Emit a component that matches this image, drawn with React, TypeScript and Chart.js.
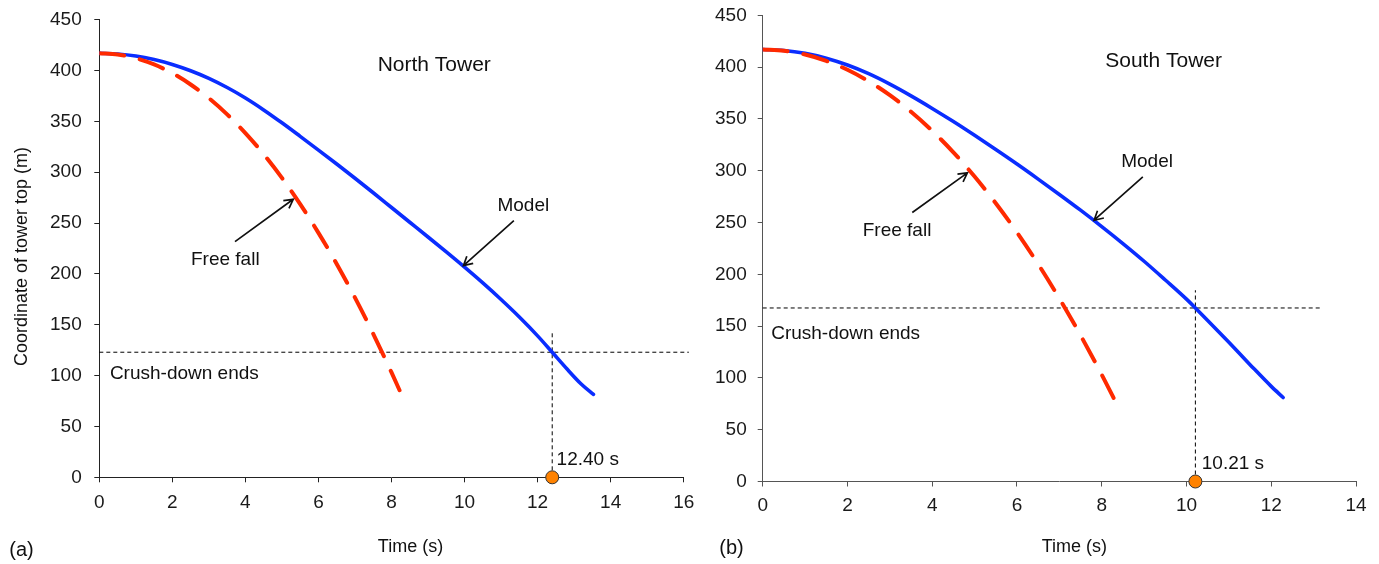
import { useEffect, useRef } from "react";
import { Chart, registerables } from "chart.js";

Chart.register(...registerables);

const FONT = '"Liberation Sans", Arial, Helvetica, sans-serif';
const BLUE = "#0a2dff";
const RED = "#ff2a00";
const DOT = "#ff8200";

// ---- North Tower (a) ----
const northModelTime = [0, 0.5, 1, 1.5, 2, 2.5, 3, 3.5, 4, 4.5, 5, 5.5, 6, 6.5, 7, 7.5, 8, 8.5, 9, 9.5, 10, 10.5, 11, 11.5, 12, 12.4, 12.8, 13.2, 13.53];
const northModelHeight = [417, 416.3, 414.3, 410.8, 406, 399.8, 392.3, 383.3, 373, 361.3, 348.6, 335.3, 321.8, 308.1, 294.1, 279.8, 265.3, 250.8, 236.3, 221.6, 206.6, 191.1, 174.8, 157.6, 139.1, 123, 106.7, 91.5, 81.5];
const northFreeFallTime = [0, 0.5, 1, 1.5, 2, 2.5, 3, 3.5, 4, 4.5, 5, 5.5, 6, 6.5, 7, 7.5, 8, 8.22];
const northFreeFallHeight = [417, 415.8, 412.1, 406.0, 397.4, 386.3, 372.9, 356.9, 338.5, 317.7, 294.4, 268.6, 240.4, 209.8, 176.7, 141.1, 103.1, 85.6];
const northCrushEndTime = 12.4;
const northCrushEndHeight = 123;
const northTimeTicks = [0, 2, 4, 6, 8, 10, 12, 14, 16];

// ---- South Tower (b) ----
const southModelTime = [0, 0.5, 1, 1.5, 2, 2.5, 3, 3.5, 4, 4.5, 5, 5.5, 6, 6.5, 7, 7.5, 8, 8.5, 9, 9.5, 10, 10.21, 10.5, 11, 11.5, 12, 12.28];
const southModelHeight = [417, 416.1, 413.3, 408.6, 402, 393.6, 383.5, 372.2, 360.1, 347.4, 334.1, 320.4, 306.4, 291.9, 277.1, 261.9, 246.1, 229.7, 212.6, 194.5, 176, 167.5, 155.5, 134.3, 112.8, 91.8, 81.1];
const southFreeFallTime = [0, 0.5, 1, 1.5, 2, 2.5, 3, 3.5, 4, 4.5, 5, 5.5, 6, 6.5, 7, 7.5, 8, 8.38];
const southFreeFallHeight = [417, 415.8, 412.1, 406.0, 397.4, 386.3, 372.9, 356.9, 338.5, 317.7, 294.4, 268.6, 240.4, 209.8, 176.7, 141.1, 103.1, 72.6];
const southCrushEndTime = 10.21;
const southCrushEndHeight = 167.5;
const southTimeTicks = [0, 2, 4, 6, 8, 10, 12, 14];

const heightTicks = [0, 50, 100, 150, 200, 250, 300, 350, 400, 450];

const zip = (xs: number[], ys: number[]) => xs.map((x, i) => ({ x, y: ys[i] }));

function drawArrow(ctx: CanvasRenderingContext2D, x1: number, y1: number, x2: number, y2: number) {
  const ang = Math.atan2(y2 - y1, x2 - x1);
  const len = 10;
  const spread = 0.5;
  ctx.beginPath();
  ctx.moveTo(x1, y1);
  ctx.lineTo(x2, y2);
  ctx.moveTo(x2 - len * Math.cos(ang - spread), y2 - len * Math.sin(ang - spread));
  ctx.lineTo(x2, y2);
  ctx.lineTo(x2 - len * Math.cos(ang + spread), y2 - len * Math.sin(ang + spread));
  ctx.stroke();
}

const notesPlugin = {
  id: "towerNotes",
  afterDatasetsDraw(chart: any, _args: any, opts: any) {
    const { ctx, chartArea, scales } = chart;
    const X = (v: number) => scales.x.getPixelForValue(v);
    const Y = (v: number) => scales.y.getPixelForValue(v);
    ctx.save();
    ctx.fillStyle = "#111";
    ctx.strokeStyle = "#111";
    ctx.lineWidth = 1.7;
    ctx.textBaseline = "middle";
    for (const n of opts.notes) {
      ctx.font = `${n.size}px ${FONT}`;
      ctx.textAlign = n.align;
      ctx.fillText(n.text, X(n.x), Y(n.y));
    }
    for (const a of opts.arrows) {
      drawArrow(ctx, X(a.from[0]), Y(a.from[1]), X(a.to[0]), Y(a.to[1]));
    }
    // axis titles
    ctx.font = `18px ${FONT}`;
    ctx.textAlign = "center";
    const cx = (chartArea.left + chartArea.right) / 2;
    ctx.fillText(opts.xTitle.text, cx + opts.xTitle.dx, chartArea.bottom + opts.xTitle.dy);
    if (opts.yTitle) {
      ctx.save();
      ctx.translate(chartArea.left + opts.yTitle.dx, (chartArea.top + chartArea.bottom) / 2 + opts.yTitle.dy);
      ctx.rotate(-Math.PI / 2);
      ctx.fillText(opts.yTitle.text, 0, 0);
      ctx.restore();
    }
    ctx.font = `20px ${FONT}`;
    ctx.fillText(opts.tag.text, opts.tag.x, opts.tag.y);
    ctx.restore();
  },
};

type Panel = {
  modelT: number[];
  modelH: number[];
  fallT: number[];
  fallH: number[];
  endT: number;
  endH: number;
  hLineTo: number;
  vLineTo: number;
  xMax: number;
  xTicks: number[];
  axisColor: string;
  padding: { left: number; top: number; right: number; bottom: number };
  yWidth: number;
  xHeight: number;
  yTickPad: number;
  xTickPad: number;
  notes: any;
};

function buildChart(canvas: HTMLCanvasElement, p: Panel) {
  const axisGrid = {
    display: true,
    drawOnChartArea: false,
    drawTicks: true,
    tickLength: 5,
    color: p.axisColor,
    lineWidth: 1,
  };
  return new Chart(canvas, {
    type: "line",
    data: {
      datasets: [
        {
          data: [{ x: p.endT, y: 0 }],
          showLine: false,
          pointRadius: 6.5,
          pointBackgroundColor: DOT,
          pointBorderColor: "#333",
          pointBorderWidth: 1,
          clip: false,
          order: 0,
        },
        {
          data: zip(p.fallT, p.fallH),
          borderColor: RED,
          borderWidth: 4,
          borderDash: [25, 16],
          borderCapStyle: "round",
          pointRadius: 0,
          cubicInterpolationMode: "monotone",
          order: 1,
        },
        {
          data: zip(p.modelT, p.modelH),
          borderColor: BLUE,
          borderWidth: 3.6,
          borderCapStyle: "round",
          pointRadius: 0,
          cubicInterpolationMode: "monotone",
          order: 2,
        },
        {
          data: [
            { x: 0, y: p.endH },
            { x: p.hLineTo, y: p.endH },
          ],
          borderColor: "#000",
          borderWidth: 1,
          borderDash: [4, 3],
          pointRadius: 0,
          clip: false,
          order: 3,
        },
        {
          data: [
            { x: p.endT, y: 0 },
            { x: p.endT, y: p.vLineTo },
          ],
          borderColor: "#000",
          borderWidth: 1,
          borderDash: [4, 3],
          pointRadius: 0,
          clip: false,
          order: 4,
        },
      ],
    } as any,
    options: {
      responsive: false,
      maintainAspectRatio: false,
      animation: false,
      events: [],
      layout: { padding: p.padding },
      plugins: {
        legend: { display: false },
        tooltip: { enabled: false },
        towerNotes: p.notes,
      } as any,
      scales: {
        x: {
          type: "linear",
          min: 0,
          max: p.xMax,
          afterFit: (s: any) => {
            s.height = p.xHeight;
            s.paddingLeft = 0;
            s.paddingRight = 0;
          },
          afterBuildTicks: (s: any) => {
            s.ticks = p.xTicks.map((v) => ({ value: v }));
          },
          border: { display: true, color: p.axisColor, width: 1 },
          grid: axisGrid,
          ticks: {
            autoSkip: false,
            maxRotation: 0,
            padding: p.xTickPad,
            color: "#1a1a1a",
            font: { family: FONT, size: 19 },
          },
        },
        y: {
          type: "linear",
          min: 0,
          max: 450,
          afterFit: (s: any) => {
            s.width = p.yWidth;
            s.paddingTop = 0;
            s.paddingBottom = 0;
          },
          afterBuildTicks: (s: any) => {
            s.ticks = heightTicks.map((v) => ({ value: v }));
          },
          border: { display: true, color: p.axisColor, width: 1 },
          grid: axisGrid,
          ticks: {
            autoSkip: false,
            padding: p.yTickPad,
            color: "#1a1a1a",
            font: { family: FONT, size: 19 },
          },
        },
      },
    } as any,
    plugins: [notesPlugin],
  });
}

const northPanel: Panel = {
  modelT: northModelTime,
  modelH: northModelHeight,
  fallT: northFreeFallTime,
  fallH: northFreeFallHeight,
  endT: northCrushEndTime,
  endH: northCrushEndHeight,
  hLineTo: 16.14,
  vLineTo: 142.6,
  xMax: 16,
  xTicks: northTimeTicks,
  axisColor: "#222",
  padding: { left: 40, top: 19.7, right: 16.3, bottom: 0 },
  yWidth: 59.3,
  xHeight: 86.7,
  yTickPad: 12.6,
  xTickPad: 9,
  notes: {
    notes: [
      { text: "North Tower", size: 21, align: "center", x: 9.17, y: 405.4 },
      { text: "Free fall", size: 19, align: "center", x: 3.45, y: 213.7 },
      { text: "Model", size: 19, align: "center", x: 11.61, y: 266.8 },
      { text: "Crush-down ends", size: 19, align: "left", x: 0.29, y: 101.6 },
      { text: `${northCrushEndTime.toFixed(2)} s`, size: 19, align: "left", x: 12.52, y: 17 },
    ],
    arrows: [
      { from: [3.715, 231.7], to: [5.31, 273.4] },
      { from: [11.35, 252.3], to: [9.97, 208.1] },
    ],
    xTitle: { text: "Time (s)", dx: 19, dy: 69.4 },
    yTitle: { text: "Coordinate of tower top (m)", dx: -76.8, dy: 8 },
    tag: { text: "(a)", x: 21.5, y: 550 },
  },
};

const southPanel: Panel = {
  modelT: southModelTime,
  modelH: southModelHeight,
  fallT: southFreeFallTime,
  fallH: southFreeFallHeight,
  endT: southCrushEndTime,
  endH: southCrushEndHeight,
  hLineTo: 13.19,
  vLineTo: 184.6,
  xMax: 14,
  xTicks: southTimeTicks,
  axisColor: "#555",
  padding: { left: 0, top: 15.3, right: 23, bottom: 0 },
  yWidth: 62.7,
  xHeight: 82.5,
  yTickPad: 11,
  xTickPad: 8,
  notes: {
    notes: [
      { text: "South Tower", size: 21, align: "center", x: 9.46, y: 405.8 },
      { text: "Free fall", size: 19, align: "center", x: 3.17, y: 242.5 },
      { text: "Model", size: 19, align: "center", x: 9.07, y: 308.5 },
      { text: "Crush-down ends", size: 19, align: "left", x: 0.2, y: 142.7 },
      { text: `${southCrushEndTime.toFixed(2)} s`, size: 19, align: "left", x: 10.36, y: 16.7 },
    ],
    arrows: [
      { from: [3.53, 259.6], to: [4.83, 297.9] },
      { from: [8.97, 294], to: [7.82, 252.2] },
    ],
    xTitle: { text: "Time (s)", dx: 15, dy: 65.5 },
    tag: { text: "(b)", x: 31.5, y: 548 },
  },
};

export default function App() {
  const leftRef = useRef<HTMLCanvasElement>(null);
  const rightRef = useRef<HTMLCanvasElement>(null);

  useEffect(() => {
    const charts: Chart[] = [];
    if (leftRef.current) charts.push(buildChart(leftRef.current, northPanel));
    if (rightRef.current) charts.push(buildChart(rightRef.current, southPanel));
    return () => charts.forEach((c) => c.destroy());
  }, []);

  return (
    <div style={{ position: "absolute", left: 0, top: 0, width: 1379, height: 564, background: "#fff", overflow: "hidden" }}>
      <canvas ref={leftRef} width={700} height={564} style={{ position: "absolute", left: 0, top: 0 }} />
      <canvas ref={rightRef} width={679} height={564} style={{ position: "absolute", left: 700, top: 0 }} />
    </div>
  );
}
